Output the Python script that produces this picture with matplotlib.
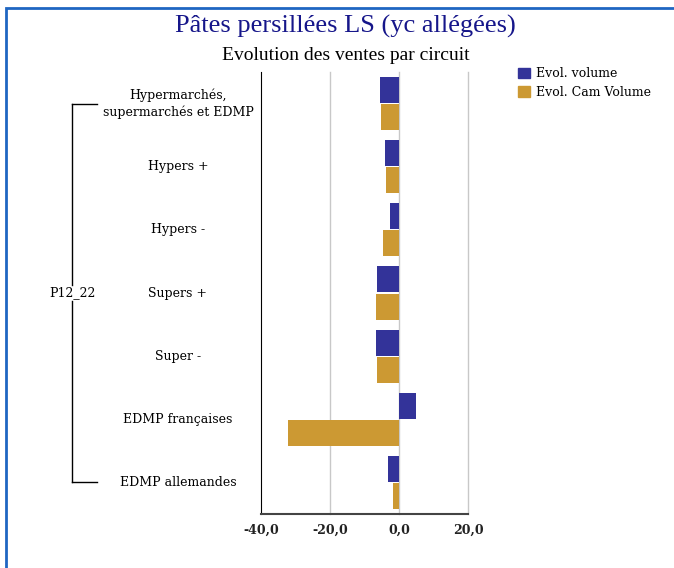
import numpy as np
import matplotlib.pyplot as plt
from matplotlib.transforms import blended_transform_factory
from matplotlib.patches import Rectangle, Patch
from matplotlib.lines import Line2D
from matplotlib.ticker import FuncFormatter

# data
categories = ['Hypermarchés,\nsupermarchés et EDMP', 'Hypers +', 'Hypers -',
              'Supers +', 'Super -', 'EDMP françaises', 'EDMP allemandes']
evol_volume = [-5.4, -4.0, -2.6, -6.5, -6.8, 5.0, -3.1]
evol_cam_volume = [-5.1, -3.7, -4.6, -6.8, -6.5, -32.2, -1.7]
group_label = 'P12_22'
series_names = ['Evol. volume', 'Evol. Cam Volume']
xticks = [-40, -20, 0, 20]

c_blue = '#333399'
c_gold = '#cc9933'
serif = 'DejaVu Serif'

fig = plt.figure(figsize=(6.74, 5.68), dpi=100)
W, H = 674, 568

# blue frame (only left/top visible in reference)
fig.patches.append(Rectangle((6 / W, -0.1), 1.2, 1.1 - 8 / H, transform=fig.transFigure,
                             fill=False, edgecolor='#1f66c2', linewidth=2.0))

ax = fig.add_axes([261 / W, 1 - 514 / H, 207 / W, 442 / H])
y = np.arange(len(categories))
bh = 0.41
ax.barh(y - 0.215, evol_volume, height=bh, color=c_blue, zorder=3)
ax.barh(y + 0.215, evol_cam_volume, height=bh, color=c_gold, zorder=3)

ax.set_xlim(-40, 20)
ax.set_ylim(len(categories) - 0.5, -0.5)
ax.set_xticks(xticks)
ax.xaxis.set_major_formatter(FuncFormatter(lambda v, p: ('%.1f' % v).replace('.', ',')))
ax.set_yticks([])
ax.tick_params(axis='x', length=0, pad=7)
for lab in ax.get_xticklabels():
    lab.set_fontfamily(serif)
    lab.set_fontsize(9)
    lab.set_fontweight('bold')
    lab.set_color('#222222')
for xv in xticks[1:]:
    ax.axvline(xv, color='#c8c8c8', linewidth=1.0, zorder=1, clip_on=False)
ax.spines['top'].set_visible(False)
ax.spines['right'].set_visible(False)
ax.spines['left'].set_color('black')
ax.spines['bottom'].set_color('#444444')
ax.spines['bottom'].set_linewidth(1.5)

# category labels and bracket
tr = blended_transform_factory(fig.transFigure, ax.transData)
for i, cat in enumerate(categories):
    ax.text(178 / W, i, cat, transform=tr, ha='center', va='center',
            fontsize=9, family=serif, linespacing=1.3, clip_on=False)
mid = (len(categories) - 1) / 2
bx, bx2 = 72 / W, 97 / W
for seg in [(0, mid - 0.12), (mid + 0.12, len(categories) - 1)]:
    fig.lines.append(Line2D([bx, bx], seg, transform=tr, color='black', linewidth=1.0))
for yy in [0, len(categories) - 1]:
    fig.lines.append(Line2D([bx, bx2], [yy, yy], transform=tr, color='black', linewidth=1.0))
ax.text(72 / W, mid, group_label, transform=tr, ha='center', va='center',
        fontsize=9, family=serif, clip_on=False)

# titles
fig.text(345 / W, 1 - 26 / H, 'Pâtes persillées LS (yc allégées)', ha='center', va='center',
         fontsize=19, family='Liberation Serif', color='#16168a')
fig.text(346 / W, 1 - 55 / H, 'Evolution des ventes par circuit', ha='center', va='center',
         fontsize=14, family='Liberation Serif', color='black')

handles = [Patch(color=c_blue), Patch(color=c_gold)]
fig.legend(handles, series_names, loc='upper left', bbox_to_anchor=(507 / W, 1 - 56 / H),
           frameon=False, handlelength=0.9, handleheight=0.9, handletextpad=0.5,
           labelspacing=0.45, prop={'family': serif, 'size': 9})

fig.savefig('out.png', dpi=100)
